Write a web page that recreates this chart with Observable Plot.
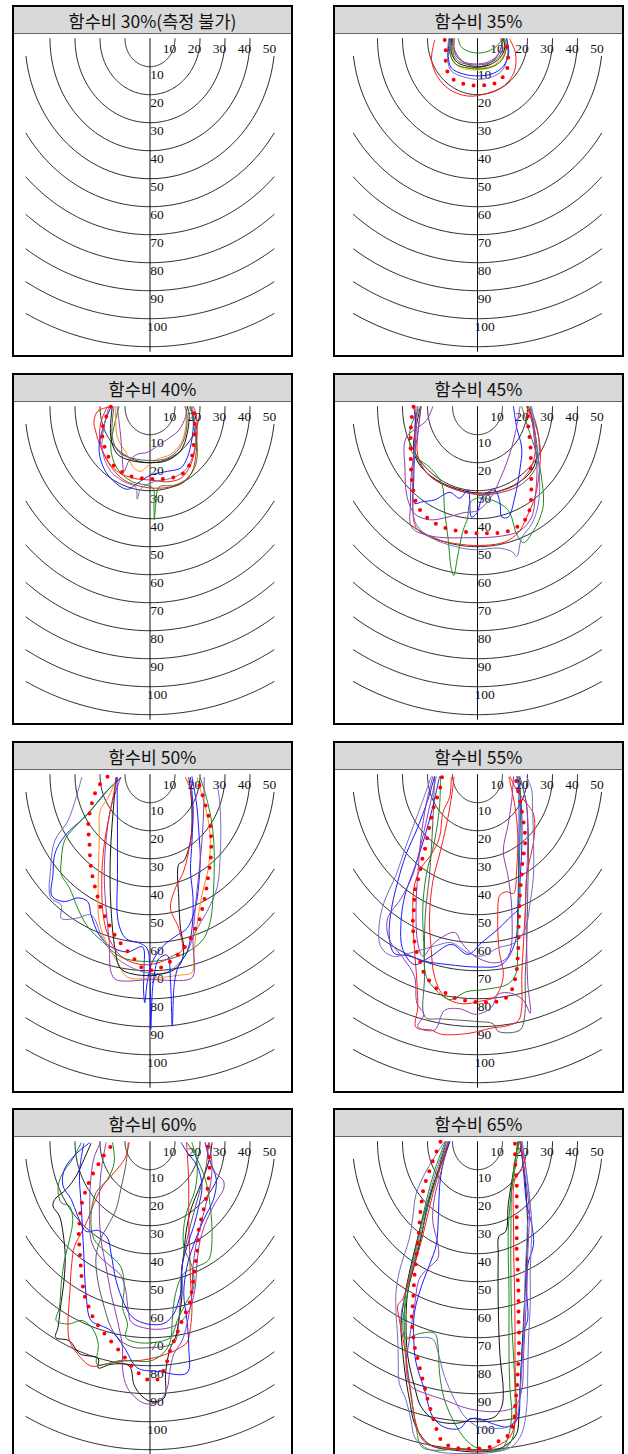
<!DOCTYPE html>
<html><head><meta charset="utf-8">
<script src="https://cdn.jsdelivr.net/npm/d3@7"></script>
<script src="https://cdn.jsdelivr.net/npm/@observablehq/plot@0.6"></script>
<style>
html,body{margin:0;padding:0;background:#fff;}
body{width:628px;height:1454px;position:relative;overflow:hidden;}
.panel{position:absolute;box-sizing:border-box;border:2.5px solid #000;background:#fff;}
.title{position:absolute;left:0;right:0;top:0;height:26px;background:#d9d9d9;border-bottom:1px solid #666;
 font-family:"Noto Sans CJK KR","Noto Sans",sans-serif;font-size:17.5px;text-align:center;line-height:27px;color:#111;}
.panel svg{position:absolute;left:0;top:28px;}
</style>
</head><body>
<script>
const titles = ["함수비 30%(측정 불가)","함수비 35%","함수비 40%","함수비 45%","함수비 50%","함수비 55%","함수비 60%","함수비 65%"];
const ringRadii = [10,20,30,40,50,60,70,80,90,100,110];
const topTicks = [10,20,30,40,50];
const depthTicks = [10,20,30,40,50,60,70,80,90,100];

// ---------- 35% ----------
const mean35 = [[-13.1,0.5],[-12.7,2.7],[-12.8,6.3],[-12.0,11.8],[-9.3,14.8],[-5.1,16.2],[-0.4,16.8],[4.3,16.4],[8.3,15.4],[10.9,12.6],[12.3,9.0],[12.0,5.1],[11.3,0]];
const curves35 = [
 ["red",[[-17.1,0.5],[-18.4,7.5],[-16.0,13.6],[-11.1,18.2],[-3.7,20.5],[4.3,19.4],[10.9,16.6],[14.7,11.8],[15.2,5.1],[12.9,0.2]]],
 ["slate",[[-11.5,0],[-12.0,6.8],[-10.5,11.5],[-5.0,13.8],[0.5,14.5],[6.0,13.6],[10.0,11.2],[12.0,6.3],[11.8,0]]],
 ["blue",[[-11.1,0],[-11.7,6.3],[-10.4,10.5],[-5.7,12.6],[0.3,13.3],[6.3,12.4],[10.3,9.9],[12.5,5.1],[11.6,0]]],
 ["yellow",[[-9.1,0],[-9.7,6.3],[-7.7,9.9],[-2.4,11.2],[2.9,10.9],[8.3,8.7],[10.9,5.1],[10.3,0]]],
 ["orange",[[-10.1,0],[-10.7,5.7],[-8.4,9.3],[-3.7,10.5],[2.3,10.5],[6.9,9.3],[10.3,6.3],[11.2,2.7],[10.7,0]]],
 ["green",[[-10.7,0],[-11.1,5.1],[-8.8,9.0],[-3.7,10.5],[1.6,10.8],[6.9,9.7],[10.3,6.9],[11.6,2.7],[10.9,0]]],
 ["black",[[-10.4,0],[-10.4,5.1],[-8.0,8.5],[-3.7,9.9],[0.3,10.2],[4.9,9.3],[8.9,6.9],[10.9,3.3],[10.3,0]]],
 ["gray",[[-9.7,0],[-9.7,5.1],[-7.5,8.1],[-2.4,9.3],[2.9,9.1],[7.6,7.3],[10.0,3.9],[9.6,0]]],
 ["purple",[[-9.3,0],[-9.1,5.1],[-6.7,7.8],[-1.7,9.0],[3.6,8.5],[7.6,6.3],[9.6,2.7],[9.3,0]]],
 ["green",[[-7.7,0],[-6.7,2.7],[-3.7,4.5],[0.3,5.1],[4.3,4.5],[7.6,2.7],[9.6,0.5]]]
];

// ---------- 40% ----------
const mean40 = [[-15.7,0],[-17.7,4.0],[-19.1,8.3],[-18.7,12.6],[-17.1,16.9],[-15.1,20.4],[-11.1,23.4],[-7.1,25.0],[-2.7,25.6],[1.6,25.8],[6.0,25.8],[10.5,25.0],[14.3,23.1],[16.3,19.4],[17.3,15.1],[17.7,10.8],[17.9,5.8],[17.6,1.5],[17.3,0]];
const curves40 = [
 ["red",[[-15.7,0],[-20.8,1.5],[-22.4,5.2],[-21.7,8.9],[-19.7,14.5],[-15.7,21.3],[-10.4,26.2],[-2.4,28.7],[5.6,29.0],[12.9,27.4],[16.9,23.1],[18.3,17.6],[18.7,10.8],[17.3,3.4],[15.6,0]]],
 ["red",[[-17.1,0],[-19.7,5.8],[-20.0,12.0],[-17.7,18.2],[-13.1,23.1],[-6.4,25.6],[0.3,26.2],[6.9,26.8],[12.3,25.6],[15.6,21.9],[17.6,17.0],[18.9,9.5],[18.3,2.1],[17.3,0]]],
 ["blue",[[-15.5,0],[-17.7,4.6],[-20.4,14.5],[-19.1,20.7],[-15.7,25.6],[-9.1,29.5],[-5.1,27.4],[0.3,24.4],[6.9,23.1],[12.3,21.9],[14.9,18.2],[16.9,10.8],[17.3,3.4],[16.3,0]]],
 ["slate",[[-16.4,0],[-18.4,7.1],[-19.1,15.7],[-15.7,23.1],[-10.4,26.8],[-5.7,28.7],[-5.1,33.0],[-3.7,29.3],[1.6,26.8],[8.3,25.6],[13.6,23.1],[16.9,18.2],[18.3,10.8],[17.6,3.4],[16.9,0]]],
 ["green",[[-12.4,0],[-14.4,7.1],[-15.7,14.5],[-13.3,21.9],[-7.1,26.8],[-1.1,28.1],[1.3,29.3],[1.6,35.5],[1.7,40.4],[2.4,34.2],[3.6,28.7],[9.6,28.1],[14.9,25.6],[18.3,20.7],[18.9,14.5],[17.6,7.1],[16.3,0]]],
 ["orange",[[-13.7,0],[-13.1,10.8],[-9.7,16.3],[-6.4,21.9],[-3.7,23.1],[-1.1,21.3],[2.9,18.8],[8.3,17.0],[12.3,13.2],[14.3,7.1],[14.3,0]]],
 ["purple",[[-13.1,0],[-11.7,10.8],[-11.1,18.2],[-10.4,23.1],[-8.4,19.4],[-5.1,17.0],[-1.1,16.3],[4.3,13.2],[8.3,10.8],[11.6,8.3],[14.3,3.4],[14.9,0]]],
 ["black",[[-15.1,0],[-15.7,10.8],[-13.1,16.9],[-7.7,19.2],[0.3,20.0],[6.9,19.2],[12.3,15.7],[14.9,9.5],[15.6,2.1],[14.9,0]]],
 ["gray",[[-14.4,0],[-15.1,10.8],[-12.4,16.3],[-7.1,18.4],[0.3,19.2],[6.9,18.4],[11.6,15.1],[14.3,9.5],[14.7,2.1],[13.9,0]]]
];

// ---------- 45% ----------
const mean45 = [[-25.6,0],[-26.3,3.8],[-26.7,8.7],[-26.8,13.0],[-26.7,17.3],[-26.6,22.2],[-26.2,26.5],[-25.5,30.8],[-24.2,35.1],[-21.6,38.4],[-18.1,41.0],[-14.1,42.9],[-9.8,44.0],[-5.1,44.7],[-0.4,45.2],[3.9,45.2],[8.3,45.1],[12.6,44.3],[16.4,42.6],[19.7,39.5],[21.1,35.7],[21.5,30.8],[21.5,25.9],[21.3,21.6],[21.3,17.3],[21.1,13.0],[20.4,8.1],[20.1,3.8],[20.7,0]];
const curves45 = [
 ["black",[[-22.8,0],[-24.6,7.5],[-25.5,16.1],[-21.9,22.2],[-14.5,27.1],[-6.4,29.8],[0.3,30.8],[8.3,30.2],[16.4,27.1],[21.7,22.8],[23.8,17.3],[23.1,9.9],[21.7,3.8],[20.4,0]]],
 ["gray",[[-23.9,0],[-25.2,9.9],[-24.6,17.3],[-19.2,24.7],[-10.5,29.0],[0.3,31.4],[9.7,30.6],[17.7,27.7],[23.1,22.2],[24.7,16.1],[23.8,7.5],[21.1,0]]],
 ["red",[[-22.6,0],[-23.9,9.9],[-23.9,17.3],[-19.9,24.0],[-11.8,28.6],[-1.1,31.1],[7.0,30.6],[15.7,27.7],[21.1,22.2],[23.1,16.1],[22.4,7.5],[19.7,0]]],
 ["red",[[-24.6,0],[-25.5,16.1],[-25.9,27.1],[-25.9,37.0],[-24.6,43.1],[-18.5,46.8],[-6.4,49.2],[3.0,49.5],[11.0,48.3],[16.4,44.9],[19.7,39.4],[23.1,32.0],[24.7,23.4],[25.1,14.8],[23.1,6.2],[19.7,0]]],
 ["green",[[-22.8,0],[-26.8,7.5],[-26.3,16.1],[-18.5,22.2],[-14.2,27.7],[-13.2,37.0],[-11.8,46.8],[-10.5,57.8],[-9.5,60.3],[-8.1,54.2],[-5.8,44.3],[-4.0,40.0],[-3.1,34.5],[-0.4,32.7],[5.6,33.3],[12.3,37.0],[15.7,45.6],[18.4,48.6],[22.4,44.3],[25.1,39.4],[26.4,34.5],[25.5,24.7],[23.8,17.3],[21.1,9.9],[17.7,0]]],
 ["blue",[[-25.5,0],[-24.6,7.5],[-25.2,17.3],[-25.5,25.9],[-25.2,34.5],[-21.9,33.9],[-17.2,33.3],[-11.1,30.6],[-7.1,32.7],[-3.8,29.8],[-2.4,39.4],[-0.4,38.2],[2.3,32.0],[7.0,29.8],[9.0,34.5],[9.7,39.4],[12.3,39.4],[15.0,32.0],[17.0,22.2],[17.7,14.8],[15.7,7.5],[14.4,0]]],
 ["purple",[[-17.9,0],[-20.5,5.0],[-28.6,11.2],[-29.0,22.2],[-28.2,32.0],[-25.2,38.2],[-19.2,40.4],[-11.8,39.4],[-5.8,37.9],[0.3,37.0],[5.6,32.0],[9.0,25.9],[12.3,18.5],[15.0,9.9],[17.0,0]]],
 ["purple",[[-22.6,0],[-23.9,9.9],[-26.3,22.2],[-26.8,34.5],[-26.3,43.1],[-18.5,46.2],[-3.8,46.8],[9.7,46.2],[17.0,44.3],[21.7,39.4],[23.1,32.0],[23.8,22.2],[22.8,12.4],[21.7,3.8],[21.1,0]]],
 ["slate",[[-23.9,0],[-25.2,16.1],[-25.9,32.0],[-24.6,41.9],[-18.5,46.8],[-9.1,49.9],[-1.1,51.1],[8.3,50.5],[13.7,51.7],[15.7,53.5],[17.7,46.8],[21.7,41.9],[24.4,34.5],[24.7,22.2],[23.1,9.9],[21.7,0]]]
];

// ---------- 50% ----------
const mean50 = [[-17.0,0.7],[-20.3,3.7],[-22.3,7.3],[-23.6,11.6],[-24.6,16.4],[-24.6,20.6],[-24.2,24.8],[-24.0,29.0],[-23.6,33.2],[-22.6,38.0],[-21.2,42.8],[-19.9,47.1],[-17.6,51.3],[-15.6,54.9],[-13.2,58.5],[-9.9,62.1],[-6.4,65.7],[-2.6,69.3],[1.9,69.7],[5.8,68.1],[9.5,65.7],[12.8,62.7],[15.5,59.7],[17.5,56.1],[19.5,52.5],[20.8,48.3],[21.9,44.0],[22.8,39.2],[23.4,35.6],[24.1,31.4],[24.5,26.6],[24.4,21.8],[24.1,17.6],[22.8,12.8],[21.2,7.9],[19.9,4.3],[18.8,1.0]];
const curves50 = [
 ["blue",[[-11.7,1.0],[-15.6,4.3],[-20.9,9.8],[-26.9,15.8],[-32.2,20.0],[-35.5,23.6],[-38.1,28.4],[-38.8,35.6],[-39.2,43.4],[-34.2,45.3],[-28.9,44.0],[-24.9,45.3],[-23.6,50.1],[-20.3,57.3],[-15.6,61.5],[-9.0,63.3],[-3.0,61.5],[-2.4,69.3],[-2.6,76.5],[-2.1,81.4],[-1.1,74.1],[0.9,66.9],[5.6,60.9],[10.9,57.3],[14.8,54.9],[18.1,47.7],[19.5,39.2],[20.1,29.6],[19.5,20.0],[18.8,11.6],[17.5,4.3],[16.8,0.7]]],
 ["slate",[[-27.3,1.0],[-29.5,7.9],[-32.8,16.4],[-38.1,23.6],[-39.7,33.2],[-39.7,44.0],[-35.5,46.5],[-35.5,51.3],[-29.5,51.3],[-23.6,50.1],[-18.9,58.5],[-13.0,65.7],[-2.4,70.5],[6.9,70.5],[14.2,64.5],[18.1,56.1],[22.8,48.9],[26.8,40.4],[28.1,28.4],[28.3,17.6],[27.8,9.1],[26.8,3.1]]],
 ["green",[[-11.7,1.3],[-18.3,6.7],[-23.6,12.8],[-30.2,18.8],[-34.2,23.6],[-35.5,30.8],[-35.5,35.6],[-32.2,40.4],[-28.9,47.7],[-24.9,54.3],[-18.9,59.7],[-11.7,65.1],[-2.4,66.7],[8.2,65.7],[16.2,62.7],[21.5,58.5],[24.1,52.5],[25.2,44.0],[25.7,33.2],[25.4,22.4],[24.1,14.0],[22.1,6.7],[20.1,1.0]]],
 ["orange",[[-13.0,1.0],[-17.0,8.5],[-19.9,12.8],[-20.3,23.6],[-20.7,38.0],[-20.3,52.5],[-17.0,60.9],[-13.0,66.9],[-9.0,72.3],[0.3,72.7],[10.9,71.7],[16.8,70.5],[17.5,64.5],[18.8,53.7],[20.8,42.8],[23.4,33.2],[24.1,22.4],[22.8,14.0],[20.8,7.3],[18.8,1.0]]],
 ["purple",[[-11.7,1.0],[-15.6,11.6],[-17.6,23.6],[-18.3,35.6],[-17.6,47.7],[-16.3,59.7],[-15.6,70.5],[-13.6,73.2],[0.3,73.2],[16.2,72.9],[17.7,70.5],[17.2,59.7],[18.1,47.7],[19.5,35.6],[20.8,23.6],[21.5,11.6],[21.7,1.0]]],
 ["black",[[-13.6,1.0],[-14.6,11.6],[-15.6,23.6],[-16.0,35.6],[-15.6,47.7],[-14.0,62.1],[-11.7,69.3],[-5.0,71.5],[1.6,71.5],[8.2,70.3],[12.2,67.5],[13.5,62.1],[12.2,54.9],[11.5,44.0],[11.5,32.0],[13.5,30.8],[16.2,23.6],[16.8,14.0],[16.2,5.5],[15.5,1.0]]],
 ["red",[[-13.2,1.0],[-15.6,11.6],[-18.3,24.8],[-19.3,38.0],[-18.3,52.5],[-15.0,60.9],[-10.3,65.7],[-2.4,67.9],[4.2,66.9],[9.5,64.5],[12.8,62.7],[11.5,54.9],[8.2,47.7],[10.2,40.4],[13.5,34.4],[16.2,23.6],[17.2,14.0],[16.2,5.5],[14.2,1.0]]],
 ["blue",[[-13.2,1.0],[-13.0,17.6],[-13.0,35.6],[-12.7,52.5],[-9.7,58.5],[-3.7,60.3],[-1.1,62.1],[0.0,71.7],[0.3,91.0],[1.3,74.1],[3.6,65.7],[6.9,64.5],[8.2,74.1],[8.9,89.8],[9.8,74.1],[11.5,68.1],[14.8,63.3],[16.8,54.9],[17.2,44.0],[16.2,34.4],[16.8,23.6],[17.2,11.6],[16.2,1.0]]]
];

// ---------- 55% ----------
const mean55 = [[-14.2,0.9],[-14.8,4.3],[-15.8,7.3],[-17.2,10.3],[-18.1,14.2],[-19.2,18.2],[-20.1,22.4],[-21.2,27.3],[-22.3,30.9],[-23.2,35.8],[-24.6,39.4],[-25.2,43.6],[-25.5,48.5],[-25.9,53.3],[-25.5,57.6],[-24.6,62.4],[-22.8,67.2],[-21.5,70.6],[-16.5,76.3],[-12.5,78.1],[-8.5,79.9],[-4.0,80.8],[0.3,81.2],[5.0,81.2],[9.7,80.6],[13.0,78.1],[14.8,73.9],[15.7,69.7],[16.1,64.8],[16.4,60.0],[16.4,55.1],[16.6,50.9],[16.8,46.7],[17.0,42.4],[17.4,38.2],[17.7,34.5],[18.1,30.3],[18.8,26.7],[19.1,23.0],[18.8,19.4],[18.0,14.6],[17.2,10.3],[16.4,6.7],[15.7,3.1],[15.0,0.9]];
const curves55 = [
 ["gray",[[-17.2,0.7],[-17.9,17.6],[-19.2,35.8],[-20.9,50.3],[-21.2,72.1],[-20.9,86.6],[-14.5,87.2],[-1.1,88.1],[6.3,89.0],[8.3,91.7],[17.0,91.2],[18.8,86.6],[19.1,72.1],[19.7,60.0],[20.1,41.8],[20.4,23.7],[19.7,11.5],[18.4,5.5],[17.0,0.7]]],
 ["red",[[-10.5,0.9],[-11.1,7.9],[-13.8,13.4],[-15.2,22.4],[-18.5,28.5],[-22.6,33.3],[-25.2,39.4],[-25.9,50.3],[-25.2,62.4],[-24.2,74.5],[-23.9,83.0],[-24.6,90.2],[-18.5,91.2],[-14.5,92.7],[-3.8,92.4],[5.6,90.5],[12.3,89.6],[16.4,87.8],[17.7,83.0],[17.7,72.1],[18.4,60.0],[19.1,47.9],[19.7,35.8],[21.7,27.3],[22.8,21.2],[22.4,14.0],[19.7,10.3],[15.7,5.5],[13.0,0.7]]],
 ["red",[[-9.4,0.9],[-10.2,6.7],[-11.8,15.2],[-14.5,26.1],[-17.9,38.2],[-19.2,51.5],[-18.5,62.4],[-17.2,72.1],[-13.2,79.3],[-6.4,81.8],[1.6,80.8],[7.0,79.3],[10.3,72.1],[8.6,62.4],[8.1,50.3],[9.0,43.0],[11.7,41.8],[14.4,42.4],[15.7,33.3],[16.1,21.2],[15.0,11.5],[13.7,5.5],[12.6,0.9]]],
 ["blue",[[-17.2,0.7],[-19.9,9.1],[-23.9,18.8],[-28.6,28.5],[-31.9,38.2],[-34.4,47.9],[-35.3,57.6],[-33.3,63.8],[-27.9,64.6],[-21.2,66.6],[-11.8,67.8],[0.3,68.7],[9.7,67.8],[15.0,60.0],[16.1,47.9],[16.4,35.8],[16.6,23.7],[16.6,11.5],[16.4,4.3],[15.7,0.7]]],
 ["slate",[[-18.5,0.7],[-22.8,11.5],[-27.9,23.7],[-32.6,35.8],[-37.3,45.4],[-39.3,53.3],[-38.7,61.4],[-34.0,64.8],[-26.6,63.6],[-17.2,61.2],[-10.5,60.0],[-3.8,63.6],[1.6,64.8],[8.3,61.8],[15.0,60.0],[19.1,55.1],[21.1,45.4],[22.4,35.8],[22.4,23.7],[22.0,11.5],[21.7,5.5],[19.7,0.7]]],
 ["blue",[[-15.2,0.7],[-17.9,11.5],[-21.2,22.4],[-25.2,33.3],[-29.0,43.0],[-30.6,52.7],[-29.9,62.4],[-25.2,67.8],[-18.5,64.8],[-10.5,60.6],[-3.8,64.2],[1.6,60.0],[8.3,55.1],[13.7,50.3],[16.4,47.9],[17.0,38.2],[17.7,26.1],[17.7,14.0],[17.0,5.5],[16.1,0.7]]],
 ["purple",[[-16.5,0.7],[-19.2,11.5],[-22.3,23.7],[-25.9,35.8],[-30.6,44.2],[-36.0,51.5],[-35.3,58.8],[-29.3,66.0],[-25.2,72.1],[-24.2,81.7],[-21.5,85.6],[-23.9,90.0],[-17.2,91.2],[-13.2,84.2],[-7.1,83.6],[-0.4,85.6],[5.6,83.0],[8.3,78.4],[13.7,78.1],[18.4,80.6],[21.1,85.2],[20.1,74.5],[19.7,62.4],[19.3,47.9],[19.7,35.8],[20.1,23.7],[19.7,11.5],[18.4,5.5],[16.4,0.7]]],
 ["purple",[[-17.9,0.7],[-20.5,10.3],[-22.6,22.4],[-23.9,35.8],[-24.6,47.9],[-23.9,60.0],[-21.9,64.8],[-17.2,60.0],[-9.1,56.3],[-6.4,60.0],[-1.1,64.8],[7.0,67.2],[12.3,64.8],[13.7,47.9],[12.1,35.8],[10.3,27.3],[12.3,17.6],[13.7,9.1],[14.4,0.7]]],
 ["green",[[-14.8,0.7],[-15.2,11.5],[-17.2,23.7],[-20.5,35.8],[-21.9,47.9],[-21.5,60.0],[-20.5,72.1],[-17.2,76.3],[-11.1,80.3],[-4.4,77.5],[3.0,76.7],[12.3,74.7],[15.4,70.9],[16.0,60.0],[16.4,47.9],[16.6,35.8],[17.0,23.7],[17.2,11.5],[16.8,0.7]]]
];

// ---------- 60% ----------
const mean60 = [[-15.9,1.9],[-18.7,5.2],[-21.2,8.9],[-23.6,12.8],[-25.2,16.4],[-26.9,20.6],[-27.8,24.9],[-28.2,29.0],[-28.5,33.2],[-28.2,38.0],[-27.8,42.8],[-27.5,47.1],[-26.9,51.3],[-26.0,55.5],[-24.2,59.7],[-22.5,63.3],[-19.6,66.9],[-16.7,70.2],[-13.6,73.3],[-10.6,76.5],[-7.9,79.5],[-4.4,82.8],[-0.8,85.0],[2.9,85.0],[5.3,82.0],[6.9,78.3],[8.5,73.3],[10.2,69.9],[11.5,66.9],[12.8,63.9],[14.6,60.3],[16.2,56.7],[16.8,52.5],[17.5,48.3],[18.1,44.0],[18.8,39.8],[19.2,35.6],[19.6,30.8],[20.8,26.6],[21.9,22.4],[22.8,18.2],[23.4,13.4],[23.8,9.1],[23.6,4.9],[23.0,0.4]];
const curves60 = [
 ["black",[[-23.6,0.7],[-26.9,7.3],[-29.5,12.2],[-33.5,17.0],[-38.1,20.6],[-38.8,23.0],[-36.2,26.6],[-34.8,32.6],[-33.9,41.0],[-34.4,49.5],[-35.8,59.1],[-36.8,66.3],[-37.7,69.9],[-32.2,71.1],[-28.2,75.7],[-20.7,77.4],[-20.7,80.8],[-15.6,79.5],[-8.3,80.1],[-6.4,86.8],[-3.7,90.4],[0.3,92.8],[5.6,91.6],[6.2,83.2],[6.9,78.3],[8.2,73.5],[10.2,69.9],[11.5,63.9],[12.8,54.3],[12.5,48.3],[13.5,39.8],[14.8,30.2],[16.8,23.0],[19.5,17.0],[22.1,11.0],[24.1,4.9],[24.8,0.4]]],
 ["gray",[[-8.7,0.4],[-9.7,8.5],[-11.7,17.0],[-13.6,24.2],[-17.0,30.2],[-19.6,34.4],[-21.6,41.0],[-20.9,49.5],[-18.3,59.1],[-15.6,66.3],[-11.7,71.1],[-6.4,73.5],[0.3,73.5],[6.9,72.9],[10.2,71.1],[11.5,63.9],[12.2,54.3],[12.8,44.6],[14.8,35.0],[17.5,25.4],[20.1,17.0],[22.5,8.5],[23.4,0.4]]],
 ["red",[[-8.3,0.4],[-10.1,6.1],[-14.3,11.0],[-18.9,15.8],[-22.3,21.8],[-24.9,27.8],[-27.5,32.6],[-30.2,37.4],[-31.3,43.4],[-32.1,54.3],[-32.8,65.1],[-32.2,71.1],[-28.9,75.9],[-23.6,80.1],[-17.0,79.3],[-10.3,78.3],[-3.7,78.1],[2.9,76.9],[8.2,75.3],[12.2,73.5],[14.8,71.7],[16.2,66.3],[16.8,59.1],[16.2,49.5],[15.9,39.8],[15.5,29.0],[15.5,17.0],[15.2,8.5],[14.6,0.4]]],
 ["green",[[-27.5,0.4],[-30.9,6.1],[-35.5,12.2],[-36.8,17.0],[-35.5,21.8],[-32.2,23.0],[-30.9,27.8],[-32.2,35.0],[-34.2,42.2],[-35.5,50.7],[-36.2,59.1],[-37.5,63.9],[-32.8,65.1],[-26.9,63.9],[-22.9,66.9],[-20.7,72.3],[-21.2,79.5],[-17.0,79.3],[-11.7,78.1],[-6.4,78.3],[0.3,78.3],[5.6,75.3],[8.2,71.1],[8.9,63.9],[10.2,54.3],[13.5,47.1],[18.8,44.6],[23.4,42.2],[24.8,35.0],[24.1,23.0],[22.1,13.4],[18.1,4.9],[14.8,0.4]]],
 ["green",[[-15.0,0.4],[-14.3,7.3],[-17.0,13.4],[-21.6,18.2],[-23.6,26.6],[-22.3,35.0],[-17.0,39.8],[-11.7,44.6],[-10.3,51.9],[-11.0,59.1],[-9.0,65.1],[-9.7,69.9],[-5.0,71.7],[1.6,71.7],[8.2,69.9],[10.9,63.9],[14.2,57.9],[17.5,51.9],[16.8,44.6],[13.5,37.4],[14.2,26.6],[18.1,17.0],[18.8,7.3],[16.8,0.4]]],
 ["blue",[[-24.2,0.4],[-29.5,4.3],[-34.2,9.8],[-34.8,15.8],[-31.5,20.6],[-28.9,26.6],[-25.6,32.0],[-20.7,31.7],[-17.0,34.4],[-15.6,39.8],[-13.6,49.5],[-10.3,57.9],[-7.0,62.7],[-1.1,65.1],[5.6,64.9],[9.5,61.5],[11.5,56.7],[12.8,51.9],[12.8,44.6],[14.8,37.4],[17.5,30.2],[19.5,23.0],[20.8,15.8],[18.8,8.5],[14.8,3.7],[12.5,0.4]]],
 ["blue",[[-26.5,0.7],[-28.2,11.0],[-27.5,23.0],[-26.5,39.8],[-25.6,54.3],[-23.6,63.9],[-19.6,65.7],[-15.6,67.5],[-10.3,73.5],[-5.0,80.8],[2.9,82.0],[14.8,82.6],[15.5,73.5],[14.8,63.9],[13.5,54.3],[14.8,44.6],[17.2,37.4],[21.5,27.8],[25.4,20.6],[26.5,13.4],[24.1,7.3],[22.1,0.4]]],
 ["purple",[[-19.9,0.4],[-22.5,6.1],[-23.8,14.6],[-24.1,25.4],[-23.6,35.0],[-20.7,40.4],[-15.6,44.6],[-11.7,47.7],[-9.7,53.1],[-8.7,60.3],[-7.4,64.5],[0.3,66.9],[8.2,66.3],[12.8,63.9],[16.2,59.1],[18.1,51.9],[18.8,43.4],[20.1,35.0],[22.8,27.8],[26.1,21.8],[29.4,17.0],[29.4,14.0],[26.1,11.0],[23.4,4.9],[22.1,0.4]]],
 ["purple",[[-17.6,0.4],[-19.6,11.0],[-20.3,23.0],[-19.6,35.0],[-17.6,44.6],[-15.6,54.3],[-13.0,63.9],[-11.0,73.5],[-11.0,80.8],[-9.0,88.0],[-2.4,93.4],[3.6,92.8],[6.9,88.0],[7.9,82.0],[9.5,75.9],[12.8,71.1],[14.8,65.1],[16.8,54.3],[17.2,44.6],[18.8,35.0],[21.5,25.4],[24.1,15.8],[24.8,8.5],[23.8,0.4]]]
];

// ---------- 65% ----------
const mean65 = [[-14.8,0],[-16.5,3.7],[-18.3,7.9],[-19.9,12.2],[-21.5,16.4],[-22.3,21.2],[-22.8,24.8],[-23.2,29.6],[-23.6,33.8],[-24.2,38.0],[-24.6,42.8],[-25.2,47.7],[-25.5,52.5],[-25.9,57.9],[-26.3,62.7],[-25.9,68.1],[-25.2,72.9],[-23.9,77.7],[-22.6,82.6],[-21.2,87.4],[-19.9,92.2],[-18.1,97.6],[-16.5,102.4],[-14.5,106.6],[-10.5,109.0],[-3.8,109.6],[0.3,109.6],[5.0,109.0],[9.0,106.6],[12.3,104.8],[14.4,100.6],[15.0,94.6],[15.7,88.6],[16.1,82.6],[16.4,77.7],[16.6,72.9],[16.6,68.1],[16.4,63.3],[16.4,58.5],[16.4,53.7],[16.1,48.9],[16.1,44.0],[15.7,39.2],[15.7,34.4],[15.7,29.6],[15.7,24.8],[15.7,20.0],[15.7,15.2],[15.3,10.4],[15.0,5.5],[15.0,0.1]];
const curves65 = [
 ["black",[[-11.1,0],[-14.5,8.0],[-18.5,17.6],[-21.9,27.2],[-24.6,36.8],[-27.2,46.5],[-29.3,56.1],[-30.6,65.7],[-29.9,75.3],[-28.6,85.0],[-27.2,92.2],[-25.2,100.6],[-21.2,106.6],[-17.2,109.0],[-9.1,110.2],[-1.1,110.8],[7.0,110.2],[12.3,107.8],[15.7,104.2],[16.6,97.0],[17.0,88.6],[17.7,76.5],[18.4,64.5],[19.1,52.5],[19.7,40.4],[20.1,32.0],[19.7,22.4],[19.1,14.0],[18.0,6.7],[17.0,0]]],
 ["black",[[-12.5,0],[-15.8,10.4],[-19.9,22.4],[-22.6,34.4],[-25.2,44.0],[-27.9,53.7],[-28.6,64.5],[-27.9,76.5],[-25.2,87.4],[-22.6,94.6],[-17.2,99.4],[-10.5,100.6],[-5.1,100.0],[-2.4,98.8],[1.6,99.4],[7.0,98.2],[9.7,94.6],[10.3,88.6],[9.0,76.5],[8.3,58.5],[8.3,40.4],[8.6,33.8],[11.3,32.0],[12.3,22.4],[14.4,10.4],[15.7,3.2],[16.1,0]]],
 ["green",[[-11.8,0],[-15.2,9.1],[-18.5,18.8],[-21.2,28.4],[-23.9,38.0],[-26.6,47.7],[-28.6,57.3],[-29.9,65.7],[-28.6,70.5],[-23.9,68.7],[-17.2,68.4],[-15.8,72.9],[-15.2,82.6],[-13.2,92.2],[-9.1,100.6],[-5.1,106.0],[-1.1,109.0],[4.3,110.2],[9.7,109.6],[12.3,105.4],[13.7,97.0],[13.0,88.6],[12.6,76.5],[12.6,64.5],[12.6,52.5],[12.3,40.4],[12.3,32.0],[13.0,22.4],[14.4,12.8],[16.1,4.3],[16.6,0]]],
 ["green",[[-12.9,0],[-17.2,10.4],[-20.5,21.2],[-23.2,32.0],[-25.9,42.8],[-28.6,53.7],[-29.3,64.5],[-28.6,76.5],[-26.6,89.8],[-24.6,101.8],[-22.3,109.0],[-17.2,110.2],[-6.4,109.6],[1.6,110.2],[9.7,110.2],[13.7,106.6],[15.0,99.4],[15.0,88.6],[14.4,76.5],[13.7,64.5],[13.4,52.5],[13.3,40.4],[13.4,28.4],[13.7,16.4],[15.0,6.7],[16.4,0]]],
 ["blue",[[-11.1,0],[-13.8,8.0],[-15.2,16.4],[-15.6,26.0],[-16.5,36.8],[-19.2,44.0],[-22.3,51.3],[-25.2,60.9],[-25.5,70.5],[-24.6,78.9],[-21.2,88.6],[-17.9,98.2],[-13.2,102.0],[-7.1,102.4],[-3.8,99.4],[0.3,98.8],[5.6,100.6],[12.3,101.8],[16.1,98.8],[17.0,89.8],[17.7,77.7],[18.4,68.1],[20.1,63.3],[19.7,53.7],[20.1,44.0],[22.4,36.8],[21.7,29.6],[19.7,22.4],[18.4,10.4],[17.4,0]]],
 ["slate",[[-13.2,0],[-17.2,5.5],[-21.2,11.6],[-24.6,18.8],[-25.9,27.2],[-27.2,34.4],[-29.3,40.4],[-31.3,46.5],[-32.6,53.7],[-32.6,60.9],[-31.9,70.5],[-31.7,77.7],[-31.3,86.2],[-28.6,92.2],[-26.6,99.4],[-25.2,105.4],[-21.2,109.0],[-15.8,110.8],[-3.8,111.4],[7.0,110.8],[13.7,109.0],[17.7,104.2],[19.7,94.6],[20.1,82.6],[20.4,70.5],[21.1,58.5],[21.1,46.5],[21.5,36.8],[21.7,28.4],[20.4,17.6],[19.1,8.0],[17.9,0]]],
 ["slate",[[-12.5,0],[-16.5,10.4],[-19.9,21.2],[-22.8,32.0],[-25.5,42.8],[-28.6,53.7],[-30.6,62.1],[-29.9,69.3],[-25.2,69.9],[-17.9,70.5],[-15.8,75.3],[-13.2,83.8],[-9.1,92.2],[-5.1,98.2],[0.3,101.8],[7.0,102.4],[12.3,101.8],[15.7,98.2],[17.0,89.8],[17.7,80.1],[18.4,70.5],[18.8,58.5],[19.1,46.5],[19.7,36.8],[20.1,28.4],[21.1,24.8],[20.4,16.4],[19.1,8.0],[17.7,0]]],
 ["purple",[[-11.8,0],[-14.5,10.4],[-17.2,20.0],[-17.9,28.4],[-15.8,36.8],[-15.8,41.6],[-19.9,45.3],[-23.2,48.9],[-25.2,58.5],[-27.2,70.5],[-28.6,80.1],[-26.6,87.4],[-21.2,89.8],[-13.2,92.2],[-6.4,94.6],[-1.1,95.8],[7.0,96.4],[15.0,94.6],[17.7,88.6],[18.4,76.5],[19.1,64.5],[19.7,52.5],[20.1,40.4],[20.7,24.8],[19.7,16.4],[18.4,8.0],[17.0,0]]],
 ["red",[[-11.5,0],[-14.8,9.1],[-17.9,18.8],[-20.5,28.4],[-23.2,38.0],[-26.6,47.7],[-29.9,56.1],[-31.9,58.5],[-31.3,63.3],[-29.3,72.9],[-27.9,82.6],[-26.6,91.0],[-24.6,100.6],[-21.9,106.6],[-17.2,109.0],[-10.5,109.6],[-3.8,110.2],[3.0,110.2],[9.7,107.8],[13.0,105.4],[15.0,100.6],[15.7,94.6],[15.3,88.6],[15.0,76.5],[15.0,64.5],[14.8,52.5],[14.5,40.4],[14.4,28.4],[14.4,16.4],[15.7,11.6],[19.1,9.1],[18.0,4.6],[17.0,0]]]
];

// ---------- rendering ----------
const panelMeans = [null, mean35, mean40, mean45, mean50, mean55, mean60, mean65];
const panelCurves = [[], curves35, curves40, curves45, curves50, curves55, curves60, curves65];
const colorOf = {red:"#ff1a1a", blue:"#1a1aff", slate:"#7070c4", green:"#1d8a1d", purple:"#8e3fb0",
  black:"#111111", gray:"#5a5a5a", orange:"#ff8c1a", yellow:"#e8dc00"};

const LIM = 49.6;
const rings = ringRadii.flatMap(r => {
  const a0 = r > LIM ? Math.acos(LIM / r) : 0;
  const n = 120;
  return d3.range(n + 1).map(i => {
    const t = a0 + (Math.PI - 2 * a0) * i / n;
    return {r, x: r * Math.cos(t), y: r * Math.sin(t)};
  });
});

const labelFont = {fontFamily: "Liberation Serif", fontSize: 13.5, fill: "#111"};
const rowTops = [5, 373, 741, 1108];
titles.forEach((title, i) => {
  const col = i % 2, row = Math.floor(i / 2);
  const L = col ? 333 : 12, W = col ? 291 : 281, T = rowTops[row], H = 352;
  const axisX = col ? 142 : 135.5;
  const div = document.createElement("div");
  div.className = "panel";
  Object.assign(div.style, {left: L + "px", top: T + "px", width: W + "px", height: H + "px"});
  const t = document.createElement("div");
  t.className = "title";
  t.textContent = title;
  div.appendChild(t);
  const sw = W - 5, sh = H - 5 - 28;
  const y0 = 3.2;
  const marks = [
    Plot.line(rings, {x: "x", y: "y", z: "r", stroke: "#111", strokeWidth: 0.9}),
    Plot.ruleX([0], {y1: 0, y2: 112, stroke: "#111", strokeWidth: 1}),
    Plot.text(topTicks, {x: d => d, frameAnchor: "top", lineAnchor: "middle", dy: 13.3, dx: -5.5,
      text: d => String(d), ...labelFont}),
    Plot.text(depthTicks, {x: 0, y: d => d, dx: 7, dy: 8.4, lineAnchor: "middle",
      text: d => String(d), ...labelFont})
  ];
  panelCurves[i].forEach(([s, pts]) => {
    marks.push(Plot.line(pts, {x: d => d[0], y: d => d[1], stroke: colorOf[s], strokeWidth: 1, curve: "catmull-rom"}));
  });
  if (panelMeans[i]) {
    marks.push(Plot.line(panelMeans[i], {x: d => d[0], y: d => d[1], stroke: "#ff0000", strokeWidth: 4,
      strokeDasharray: "0,10.5", strokeLinecap: "round", curve: "catmull-rom"}));
  }
  const svg = Plot.plot({
    width: sw, height: sh,
    marginTop: 0, marginBottom: 0, marginLeft: 0, marginRight: 0,
    x: {domain: [-50, 50], range: [axisX - 125, axisX + 125], axis: null},
    y: {domain: [0, 112], range: [y0, y0 + 112 * 2.8], axis: null},
    style: {background: "transparent", overflow: "visible"},
    marks
  });
  div.appendChild(svg);
  document.body.appendChild(div);
});
</script>
</body></html>
